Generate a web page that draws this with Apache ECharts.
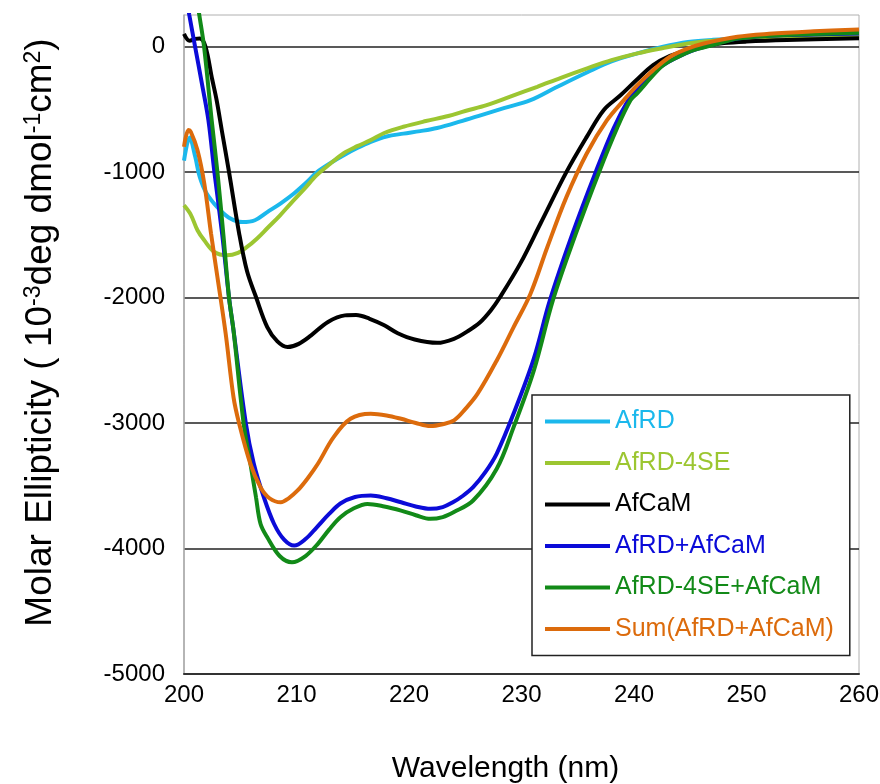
<!DOCTYPE html>
<html>
<head>
<meta charset="utf-8">
<title>CD spectra</title>
<script src="https://cdn.jsdelivr.net/npm/echarts@6/dist/echarts.min.js"></script>
<style>
  html, body { margin: 0; padding: 0; background: #fff; }
  #chart { width: 880px; height: 784px; }
</style>
</head>
<body>
<div id="chart"></div>
<script>
// series names (legend order = drawing order)
var seriesNames = ['AfRD', 'AfRD-4SE', 'AfCaM', 'AfRD+AfCaM', 'AfRD-4SE+AfCaM', 'Sum(AfRD+AfCaM)'];
var seriesColors = ['#1bb8ec', '#9cc631', '#000000', '#0b0bd8', '#128a18', '#dc6b0c'];

// [wavelength (nm), molar ellipticity]
var afrd = [
  [200, -910], [200.5, -725], [201, -880], [201.4, -1040], [202, -1170], [203, -1285],
  [204, -1365], [205.2, -1400], [206.3, -1385], [207.4, -1320], [208.6, -1250], [209.8, -1170],
  [211, -1075], [211.8, -1003], [213, -930], [214.2, -867], [215.4, -810], [216.6, -761],
  [218, -718], [219.5, -695], [221, -675], [222.5, -650], [224.5, -600], [226.5, -545],
  [228.5, -490], [230.8, -428], [233, -330], [235.9, -204], [238, -120], [240.3, -56],
  [242.5, -5], [244.8, 35], [247, 52], [250, 62], [255, 70], [260, 78]
];
var afrd4se = [
  [200, -1266], [200.6, -1340], [201.2, -1465], [201.8, -1545], [202.7, -1638], [203.8, -1664],
  [204.8, -1645], [205.6, -1598], [206.5, -1530], [207.4, -1449], [208.5, -1350], [209.5, -1250],
  [210.7, -1135], [211.8, -1026], [213, -935], [214.2, -851], [215.4, -795], [216.6, -747],
  [217.8, -690], [219.5, -640], [221.5, -595], [223.5, -555], [225, -515], [226.9, -468],
  [229, -400], [231.4, -322], [233.5, -250], [235.9, -173], [238, -110], [240.3, -56],
  [242.5, -15], [244.8, 23], [247, 45], [250, 62], [255, 75], [260, 82]
];
var afcam = [
  [200, 100], [200.5, 45], [201, 60], [201.4, 62], [201.9, 0], [202.5, -260], [202.9, -428],
  [203.4, -690], [204, -1000], [204.9, -1489], [205.6, -1790], [206.4, -1997], [207.4, -2236],
  [208.3, -2350], [209.2, -2395], [210.2, -2370], [211.3, -2302], [212.8, -2195], [214.3, -2143],
  [215.3, -2140], [216.5, -2170], [217.8, -2222], [219, -2285], [220.5, -2335], [222.5, -2362],
  [224, -2330], [225.2, -2270], [226.3, -2200], [227.3, -2100], [228.1, -1997], [229.9, -1729],
  [231.7, -1409], [234, -1000], [235.8, -721], [237.3, -508], [238.8, -390], [240.2, -270],
  [241.7, -149], [243.2, -75], [244.8, -30], [246.5, 5], [248, 26], [250, 38], [253.6, 50], [260, 64]
];
var afrdAfcam = [
  [200, 500], [200.47, 250], [200.98, 0], [201.6, -300], [202.17, -588], [202.7, -1000],
  [203.4, -1500], [204, -2000], [204.4, -2261], [205.5, -3004], [206.2, -3323], [207.1, -3592],
  [208, -3803], [208.9, -3930], [209.8, -3977], [210.8, -3925], [211.8, -3831], [212.9, -3725],
  [213.9, -3642], [215.2, -3590], [216.6, -3578], [218, -3600], [219.3, -3632], [220.6, -3665],
  [221.9, -3684], [223, -3670], [223.9, -3632], [224.8, -3580], [225.7, -3512], [226.8, -3390],
  [227.8, -3244], [229.3, -2925], [231.1, -2486], [232.5, -2030], [234.5, -1500], [236.6, -1000],
  [238.2, -650], [239.5, -428], [240.3, -340], [241.5, -230], [242.6, -149], [244, -80],
  [245.3, -30], [247, 15], [249.2, 62], [252, 85], [256, 95], [260, 102]
];
var afrd4seAfcam = [
  [200, 1050], [201.36, 250], [201.78, 0], [202.46, -588], [202.97, -1000], [203.5, -1500],
  [204, -2000], [204.4, -2261], [205.3, -3004], [205.9, -3323], [206.4, -3592], [206.8, -3803],
  [207.4, -3911], [208.5, -4060], [209.6, -4110], [210.8, -4060], [211.9, -3963], [212.9, -3850],
  [213.9, -3751], [215.1, -3680], [216.3, -3645], [217.8, -3665], [219.3, -3698], [220.6, -3735],
  [221.9, -3764], [223, -3750], [224, -3710], [225.7, -3618], [227.8, -3365], [229.3, -3033],
  [231.1, -2581], [232.8, -2020], [234.8, -1500], [236.9, -1000], [238.5, -650], [239.7, -428],
  [240.3, -373], [241.5, -250], [242.6, -149], [244, -80], [245.3, -30], [247, 10],
  [249.2, 62], [252, 85], [256, 98], [260, 108]
];
var sumAfrdAfcam = [
  [200, -800], [200.4, -667], [200.6, -680], [201.2, -827], [201.8, -1090], [202.4, -1489],
  [202.97, -1837], [203.7, -2286], [204.4, -2794], [204.9, -3004], [205.9, -3325], [206.8, -3512],
  [207.6, -3600], [208.6, -3632], [209.3, -3600], [210.1, -3538], [211, -3440], [211.9, -3325],
  [213.3, -3113], [214.8, -2967], [216.6, -2927], [218, -2940], [219.3, -2967], [220.6, -3000],
  [221.9, -3025], [223, -3010], [224, -2980], [225, -2890], [226.1, -2767], [227.8, -2502],
  [229.3, -2236], [230.8, -1970], [232.3, -1598], [234, -1199], [235.8, -853], [237.6, -588],
  [239.1, -428], [240.3, -309], [241.7, -190], [243.2, -83], [244.7, -20], [246.2, 23],
  [249.2, 77], [252, 100], [256, 120], [260, 135]
];
var allData = [afrd, afrd4se, afcam, afrdAfcam, afrd4seAfcam, sumAfrdAfcam];

var xTicks = { min: 200, max: 260, step: 10 };
var yTicks = { min: -5000, max: 250, step: 1000 };

var myChart = echarts.init(document.getElementById('chart'));
var font = 'Liberation Sans, Arial, sans-serif';

var series = [];
for (var i = 0; i < seriesNames.length; i++) {
  series.push({
    name: seriesNames[i],
    type: 'line',
    data: allData[i],
    smooth: 0.35,
    symbol: 'none',
    clip: true,
    lineStyle: { color: seriesColors[i], width: 4 },
    itemStyle: { color: seriesColors[i] }
  });
}

var legendData = seriesNames.map(function (n, i) {
  return { name: n, textStyle: { color: seriesColors[i] } };
});

var option = {
  animation: false,
  backgroundColor: '#fff',
  textStyle: { fontFamily: font },
  grid: {
    left: 184, right: 21, top: 15, bottom: 110,
    outerBoundsMode: 'none',
    containLabel: false,
    show: true, borderColor: '#b0b0b0', borderWidth: 1
  },
  legend: {
    orient: 'vertical',
    left: 532, top: 395,
    data: legendData,
    icon: 'rect',
    itemWidth: 65, itemHeight: 4,
    itemGap: 16.5,
    padding: [14, 16, 14, 13],
    backgroundColor: '#fff',
    borderColor: '#222', borderWidth: 1.5,
    textStyle: { fontSize: 25, fontFamily: font },
    selectedMode: false
  },
  xAxis: {
    type: 'value',
    min: xTicks.min, max: xTicks.max, interval: xTicks.step,
    name: 'Wavelength (nm)',
    nameLocation: 'middle',
    nameGap: 80,
    nameTextStyle: { fontSize: 30, color: '#000', fontFamily: font, padding: [0, 32, 0, 0] },
    axisLine: { show: true, onZero: false, lineStyle: { color: '#333', width: 2 } },
    axisTick: { show: false },
    axisLabel: { fontSize: 24, color: '#000', margin: 9, fontFamily: font },
    splitLine: { show: false }
  },
  yAxis: {
    type: 'value',
    min: yTicks.min, max: yTicks.max, interval: yTicks.step,
    name: 'Molar Ellipticity ( 10{sup|-3}deg dmol{sup|-1}cm{sup|2})',
    nameLocation: 'middle',
    nameRotate: 90,
    nameGap: 125,
    nameTextStyle: {
      fontSize: 37, color: '#000', fontFamily: font,
      padding: [0, 0, 0, 24],
      rich: {
        sup: { fontSize: 23, verticalAlign: 'top', color: '#000', fontFamily: font }
      }
    },
    axisLine: { show: true, lineStyle: { color: '#aaa', width: 1.5 } },
    axisTick: { show: false },
    axisLabel: {
      fontSize: 24, color: '#000', margin: 19, showMaxLabel: false, fontFamily: font,
      formatter: function (v) { return String(v); }
    },
    splitLine: { show: true, showMaxLine: false, lineStyle: { color: '#222', width: 1.5 } }
  },
  series: series
};

myChart.setOption(option);
</script>
</body>
</html>
